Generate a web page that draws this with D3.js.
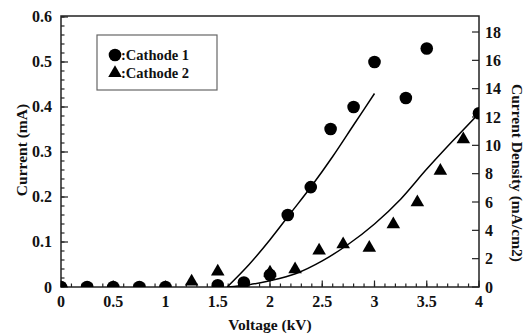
<!DOCTYPE html>
<html><head><meta charset="utf-8">
<script src="https://cdn.jsdelivr.net/npm/d3@7"></script>
<style>body{margin:0;background:#fff}</style>
</head><body>
<script>
// Data
const cathode1X = [0,0.25,0.5,0.75,1.0,1.5,1.75,2.0,2.17,2.39,2.58,2.8,3.0,3.3,3.5,4.0];
const cathode1Y = [0,0,0,0,0,0.004,0.01,0.027,0.16,0.222,0.351,0.40,0.50,0.42,0.53,0.386];
const cathode2X = [1.25,1.5,2.0,2.24,2.47,2.7,2.95,3.18,3.41,3.63,3.85];
const cathode2Y = [0.012,0.034,0.032,0.039,0.081,0.095,0.087,0.139,0.188,0.258,0.328];
const fit1X = [1.59,1.8,2.0,2.2,2.4,2.6,2.8,3.0];
const fit1Y = [0,0.05,0.105,0.165,0.225,0.29,0.36,0.43];
const fit2X = [1.59,1.8,2.0,2.25,2.5,2.75,3.0,3.25,3.5,3.75,4.0];
const fit2Y = [0,0.005,0.014,0.03,0.058,0.095,0.14,0.195,0.262,0.325,0.386];
const xTicks = [0,0.5,1,1.5,2,2.5,3,3.5,4];
const yTicks = [0,0.1,0.2,0.3,0.4,0.5,0.6];
const y2Ticks = [0,2,4,6,8,10,12,14,16,18];
const legendLabels = [":Cathode 1",":Cathode 2"];

const W=528,H=336, L=61,R=479,T=16,B=287;
const svg=d3.select("body").append("svg").attr("width",W).attr("height",H)
  .attr("font-family","'Liberation Serif', 'Times New Roman', serif").attr("font-weight","bold");
const x=d3.scaleLinear().domain([0,4]).range([L,R]);
const y=d3.scaleLinear().domain([0,0.6022]).range([B,T]);
const y2=d3.scaleLinear().domain([0,19.13]).range([B,T]);

svg.append("clipPath").attr("id","clip").append("rect").attr("x",L).attr("y",T).attr("width",R-L).attr("height",B-T);

const ink="#222";
const g=svg.append("g");
const xMinor=d3.range(0,4.0001,0.1);
g.selectAll(".xm").data(xMinor).join("line").attr("x1",d=>x(d)).attr("x2",d=>x(d)).attr("y1",B).attr("y2",B-3.5).attr("stroke",ink).attr("stroke-width",1.2);
g.selectAll(".xM").data(xTicks).join("line").attr("x1",d=>x(d)).attr("x2",d=>x(d)).attr("y1",B).attr("y2",B-6.5).attr("stroke",ink).attr("stroke-width",1.2);
const yMinor=d3.range(0,0.6001,0.02);
g.selectAll(".ym").data(yMinor).join("line").attr("x1",L).attr("x2",L+3.5).attr("y1",d=>y(d)).attr("y2",d=>y(d)).attr("stroke",ink).attr("stroke-width",1.2);
g.selectAll(".yM").data(yTicks).join("line").attr("x1",L).attr("x2",L+7).attr("y1",d=>y(d)).attr("y2",d=>y(d)).attr("stroke",ink).attr("stroke-width",1.2);
g.selectAll(".y2M").data(y2Ticks).join("line").attr("x1",R).attr("x2",R-7).attr("y1",d=>y2(d)).attr("y2",d=>y2(d)).attr("stroke",ink).attr("stroke-width",1.2);

svg.append("rect").attr("x",L).attr("y",T).attr("width",R-L).attr("height",B-T).attr("fill","none").attr("stroke",ink).attr("stroke-width",1.5);

const tc="#111";
svg.selectAll(".xl").data(xTicks).join("text").attr("x",d=>x(d)).attr("y",307).attr("text-anchor","middle").attr("font-size",16).attr("fill",tc).text(d=>d);
svg.selectAll(".yl").data(yTicks).join("text").attr("x",52).attr("y",d=>y(d)+5.5).attr("text-anchor","end").attr("font-size",16).attr("fill",tc).text(d=>d);
svg.selectAll(".y2l").data(y2Ticks).join("text").attr("x",485).attr("y",d=>y2(d)+5.5).attr("text-anchor","start").attr("font-size",16).attr("fill",tc).text(d=>d);

svg.append("text").attr("x",270).attr("y",330).attr("text-anchor","middle").attr("font-size",15.5).attr("fill",tc).text("Voltage (kV)");
svg.append("text").attr("transform","translate(27,150) rotate(-90)").attr("text-anchor","middle").attr("font-size",15.5).attr("fill",tc).text("Current (mA)");
svg.append("text").attr("transform","translate(512,173) rotate(90)").attr("text-anchor","middle").attr("font-size",15.5).attr("fill",tc).text("Current Density (mA/cm2)");

const p=svg.append("g").attr("clip-path","url(#clip)");
const line=d3.line().x(d=>x(d[0])).y(d=>y(d[1])).curve(d3.curveMonotoneX);
p.append("path").datum(fit1X.map((v,i)=>[v,fit1Y[i]])).attr("d",line).attr("fill","none").attr("stroke","#000").attr("stroke-width",1.5);
p.append("path").datum(fit2X.map((v,i)=>[v,fit2Y[i]])).attr("d",line).attr("fill","none").attr("stroke","#000").attr("stroke-width",1.5);
const tri=d3.symbol().type(d3.symbolTriangle).size(80);
p.selectAll(".t").data(cathode2X.map((v,i)=>[v,cathode2Y[i]])).join("path").attr("d",tri).attr("transform",d=>`translate(${x(d[0])},${y(d[1])})`).attr("fill","#000");
p.selectAll(".c").data(cathode1X.map((v,i)=>[v,cathode1Y[i]])).join("circle").attr("cx",d=>x(d[0])).attr("cy",d=>y(d[1])).attr("r",6.3).attr("fill","#000");

svg.append("rect").attr("x",97).attr("y",35).attr("width",120).attr("height",55).attr("fill","#fff").attr("stroke","#666").attr("stroke-width",1.2);
svg.append("circle").attr("cx",115).attr("cy",55).attr("r",6.3).attr("fill","#000");
svg.append("path").attr("d",tri).attr("transform","translate(115,73)").attr("fill","#000");
svg.selectAll(".lg").data(legendLabels).join("text").attr("x",121).attr("y",(d,i)=>60+i*18).attr("font-size",14.5).attr("fill",tc).text(d=>d);
</script>
</body></html>
